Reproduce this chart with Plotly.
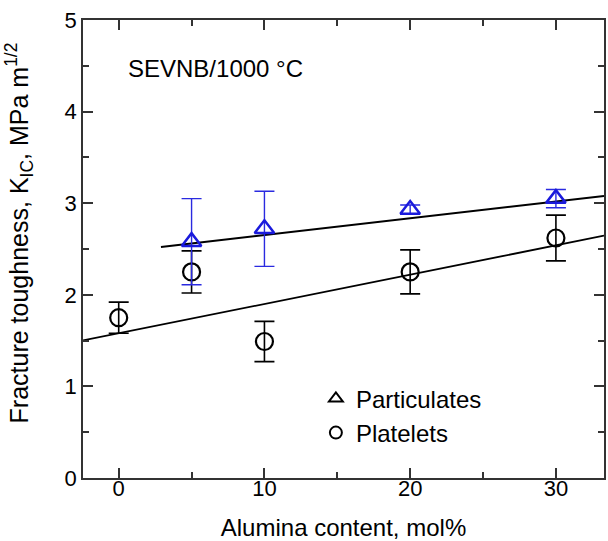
import plotly.graph_objects as go

# Data
alumina_part = [5, 10, 20, 30]
kic_part = [2.58, 2.72, 2.93, 3.05]
err_part = [0.47, 0.41, 0.05, 0.10]

alumina_plt = [0, 5, 10, 20, 30]
kic_plt = [1.75, 2.25, 1.49, 2.25, 2.62]
err_plt = [0.17, 0.23, 0.22, 0.24, 0.25]

# fitted lines: [intercept, slope], x-span
fit_part = [2.47, 0.0183]
fit_part_x = [2.9, 33.3]
fit_plt = [1.58, 0.032]
fit_plt_x = [-2.45, 33.3]

x_ticks = [0, 10, 20, 30]
y_ticks = [0, 1, 2, 3, 4, 5]

FONT = "Liberation Sans, Arial, sans-serif"
AX = "#333333"

fig = go.Figure()

fig.add_trace(go.Scatter(
    x=fit_part_x, y=[fit_part[0] + fit_part[1] * v for v in fit_part_x],
    mode="lines", line=dict(color="black", width=2), showlegend=False))
fig.add_trace(go.Scatter(
    x=fit_plt_x, y=[fit_plt[0] + fit_plt[1] * v for v in fit_plt_x],
    mode="lines", line=dict(color="black", width=1.8), showlegend=False))

fig.add_trace(go.Scatter(
    x=alumina_plt, y=kic_plt, mode="markers",
    marker=dict(symbol="circle-open", size=17, color="black", line=dict(width=2.2)),
    error_y=dict(type="data", array=err_plt, color="black", thickness=1.6, width=10),
    showlegend=False))
fig.add_trace(go.Scatter(
    x=alumina_part, y=kic_part, mode="markers",
    marker=dict(symbol="triangle-up-open", size=17, color="#1a1adc", line=dict(width=2.5)),
    error_y=dict(type="data", array=err_part, color="#2a2ae0", thickness=1.4, width=10),
    showlegend=False))

# legend entries (black open symbols)
fig.add_trace(go.Scatter(x=[None], y=[None], mode="markers", name="Particulates",
    marker=dict(symbol="triangle-up-open", size=17, color="black", line=dict(width=1.8))))
fig.add_trace(go.Scatter(x=[None], y=[None], mode="markers", name="Platelets",
    marker=dict(symbol="circle-open", size=17, color="black", line=dict(width=1.8))))

fig.add_annotation(x=0.082, y=0.894, xref="paper", yref="paper", xanchor="left", yanchor="middle",
                   text="SEVNB/1000 °C", showarrow=False, font=dict(size=24, color="black", family=FONT))

# y-axis title
fig.add_annotation(x=-0.122, y=0.535, xref="paper", yref="paper", xanchor="center", yanchor="middle",
                   text="Fracture toughness, K<sub>IC</sub>, MPa m<sup>1/2</sup>", textangle=-90,
                   showarrow=False, font=dict(size=25, color="black", family=FONT))

axis_common = dict(showline=True, linecolor=AX, linewidth=1.5, mirror="allticks",
                   ticks="inside", ticklen=10, tickwidth=1.5, tickcolor=AX,
                   showgrid=False, zeroline=False,
                   tickfont=dict(size=22, color="black", family=FONT))

fig.update_xaxes(range=[-2.45, 33.3], tickvals=x_ticks, ticklabelstandoff=-10,
                 minor=dict(tickvals=[5, 15, 25], ticklen=6, tickwidth=1.5, tickcolor=AX, ticks="inside"),
                 title=dict(text="Alumina content, mol%", font=dict(size=24, color="black", family=FONT), standoff=20),
                 **axis_common)
fig.update_yaxes(range=[0, 5], tickvals=y_ticks,
                 minor=dict(tickvals=[0.5, 1.5, 2.5, 3.5, 4.5], ticklen=6, tickwidth=1.5, tickcolor=AX, ticks="inside"),
                 **axis_common)

fig.update_layout(
    width=608, height=541,
    margin=dict(l=83, r=2, t=20, b=63),
    paper_bgcolor="white", plot_bgcolor="white",
    showlegend=True,
    legend=dict(x=0.447, y=0.222, xanchor="left", yanchor="top", bgcolor="rgba(0,0,0,0)",
                font=dict(size=24, color="black", family=FONT), itemsizing="constant",
                tracegroupgap=0),
)

fig.write_html("out.html", config={"displayModeBar": False},
               post_script="document.body.style.margin='0';")
